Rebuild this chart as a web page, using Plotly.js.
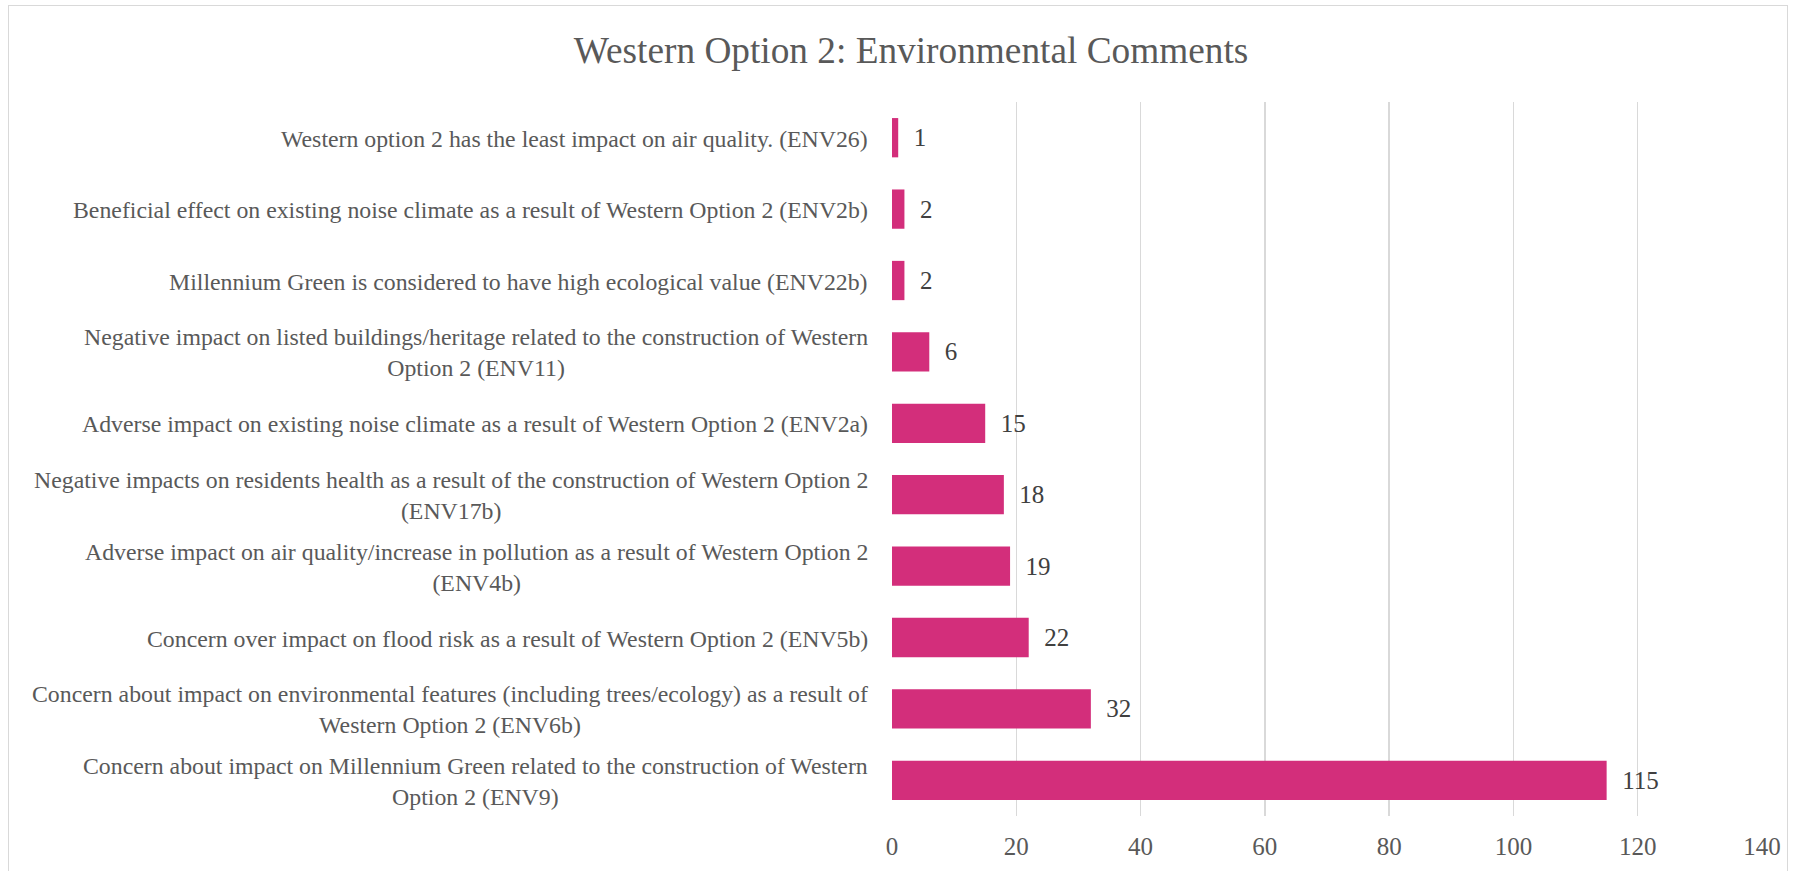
<!DOCTYPE html>
<html>
<head>
<meta charset="utf-8">
<script src="https://cdn.plot.ly/plotly-3.0.1.min.js"></script>
<style>
html,body{margin:0;padding:0;background:#fff;}
#frame{position:absolute;left:8px;top:5px;width:1780px;height:880px;border:1.5px solid #d9d9d9;box-sizing:border-box;}
#chart{position:absolute;left:0;top:0;width:1798px;height:871px;}
</style>
</head>
<body>
<div id="frame"></div>
<div id="chart"></div>
<script>
const categories = [
  "Concern about impact on Millennium Green related to the construction of Western<br>Option 2 (ENV9)",
  "Concern about impact on environmental features (including trees/ecology) as a result of<br>Western Option 2 (ENV6b)",
  "Concern over impact on flood risk as a result of Western Option 2 (ENV5b)",
  "Adverse impact on air quality/increase in pollution as a result of Western Option 2<br>(ENV4b)",
  "Negative impacts on residents health as a result of the construction of Western Option 2<br>(ENV17b)",
  "Adverse impact on existing noise climate as a result of Western Option 2 (ENV2a)",
  "Negative impact on listed buildings/heritage related to the construction of Western<br>Option 2 (ENV11)",
  "Millennium Green is considered to have high ecological value (ENV22b)",
  "Beneficial effect on existing noise climate as a result of Western Option 2 (ENV2b)",
  "Western option 2 has the least impact on air quality. (ENV26)"
];
const counts = [115, 32, 22, 19, 18, 15, 6, 2, 2, 1];
const xTicks = [0, 20, 40, 60, 80, 100, 120, 140];
const chartTitle = "Western Option 2: Environmental Comments";

const serif = "Liberation Serif";
const ids = categories.map((c, i) => "c" + i);

const trace = {
  type: "bar",
  orientation: "h",
  y: ids,
  x: counts,
  marker: {color: "#D32E7B", line: {width: 0}},
  text: counts.map(v => "\u00a0\u00a0" + v),
  textposition: "outside",
  cliponaxis: false,
  textfont: {family: serif, size: 25, color: "#404040"},
  hoverinfo: "x+y"
};

const annotations = categories.map((c, i) => ({
  xref: "paper", yref: "y", x: 0, y: ids[i],
  xanchor: "right", yanchor: "middle", align: "center",
  xshift: -22, yshift: -1, text: c, showarrow: false,
  font: {family: serif, size: 23.8, color: "#595959"}
}));

const layout = {
  width: 1798, height: 871,
  font: {family: serif},
  paper_bgcolor: "rgba(0,0,0,0)", plot_bgcolor: "rgba(0,0,0,0)",
  margin: {l: 892, r: 36, t: 102, b: 55},
  title: {text: chartTitle, x: 0.5067, xanchor: "center", y: 0.943, yanchor: "middle",
          font: {family: serif, size: 37.3, color: "#595959"}},
  xaxis: {range: [0, 140], tickvals: xTicks, ticktext: xTicks.map(String),
          showgrid: true, gridcolor: "#d9d9d9", gridwidth: 1.5, zeroline: false,
          showline: false, ticks: "", ticklen: 0, ticklabelstandoff: 13,
          tickfont: {family: serif, size: 25, color: "#595959"}, fixedrange: true},
  yaxis: {type: "category", showticklabels: false, showgrid: false, zeroline: false,
          showline: false, ticks: "", fixedrange: true},
  bargap: 0.45,
  showlegend: false,
  annotations: annotations
};

Plotly.newPlot("chart", [trace], layout, {displayModeBar: false, staticPlot: true});
</script>
</body>
</html>
